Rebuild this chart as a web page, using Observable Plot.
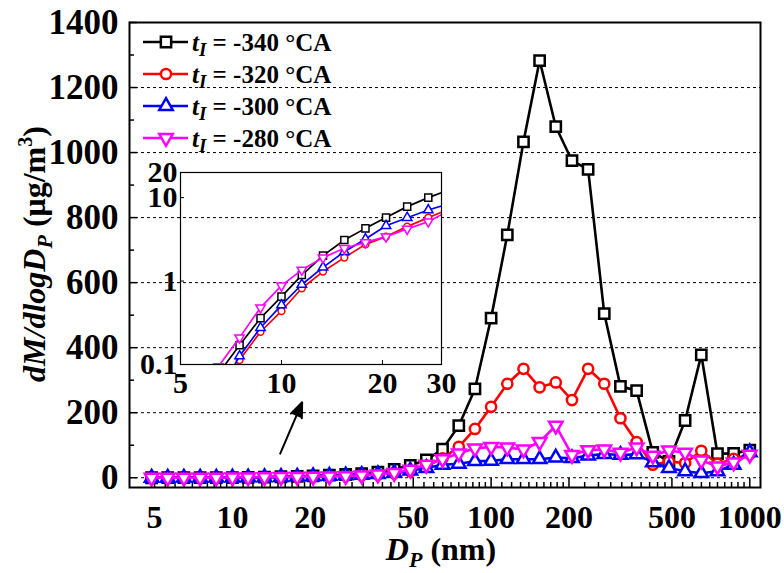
<!DOCTYPE html>
<html>
<head>
<meta charset="utf-8">
<script src="https://cdn.jsdelivr.net/npm/d3@7"></script>
<script src="https://cdn.jsdelivr.net/npm/@observablehq/plot@0.6"></script>
<style>
  html, body { margin: 0; padding: 0; background: #fff; }
  #wrap { position: relative; width: 784px; height: 573px; overflow: hidden; }
  #wrap svg { position: absolute; }
  #wrap svg text, #wrap svg tspan { font-family: "Liberation Serif", "Times New Roman", serif; font-weight: bold; fill: #000; }
</style>
</head>
<body>
<div id="wrap"></div>
<script>
// Particle size channels (nm), 16 per decade
const diameterNm = [4.87, 5.62, 6.49, 7.50, 8.66, 10.0, 11.5, 13.3, 15.4, 17.8, 20.5, 23.7, 27.4,
  31.6, 36.5, 42.2, 48.7, 56.2, 64.9, 75.0, 86.6, 100, 115.5, 133.4, 154.0, 177.8, 205.4, 237.1,
  273.8, 316.2, 365.2, 421.7, 487.0, 562.3, 649.4, 749.9, 866.0, 1000];

// Injection timings (°CA)
const injectionTiming = ["-340", "-320", "-300", "-280"];

// Mass size distribution dM/dlogDp (µg/m³) for each injection timing
const massM340 = [0.01, 0.03, 0.078, 0.17, 0.36, 0.65, 1.18, 2.02, 3.1, 4.28, 5.76, 7.8, 10.0,
  12.4, 17, 26, 38, 55, 88, 160, 273, 491, 747, 1033, 1283, 1080, 975, 948,
  505, 281, 268, 78, 50, 176, 378, 74, 75, 85];
const massM320 = [0.008, 0.02, 0.04, 0.113, 0.247, 0.437, 0.82, 1.3, 1.91, 2.75, 3.41, 4.49, 5.76,
  7.3, 10, 14, 20, 36, 60, 95, 150, 218, 289, 335, 278, 293, 239, 335,
  289, 183, 110, 40, 50, 45, 83, 43, 58, 73];
const massM300 = [0.006, 0.02, 0.045, 0.126, 0.276, 0.515, 0.91, 1.46, 2.25, 3.19, 4.6, 5.75, 7.1,
  8.5, 11, 15, 22, 30, 40, 43, 51, 52, 57, 57, 57, 62, 60, 68,
  73, 70, 72, 47, 30, 20, 14, 20, 40, 78];
const massM280 = [0.01, 0.04, 0.095, 0.21, 0.48, 0.88, 1.36, 1.91, 2.47, 2.91, 3.41, 4.2, 5.15,
  7, 10, 15, 25, 40, 57, 75, 90, 95, 93, 87, 110, 160, 70, 85,
  87, 77, 93, 68, 84, 77, 53, 35, 47, 71];

// Axis ticks
const xTicksMain = [5, 10, 20, 50, 100, 200, 500, 1000];
const yTicksMain = [0, 200, 400, 600, 800, 1000, 1200, 1400];
const yGridMain = [0, 200, 400, 600, 800, 1000, 1200];
const xTicksInset = [5, 10, 20, 30];
const yTicksInset = [0.1, 1, 10, 20];
const xTickMarksInset = [10, 20];
const yTickMarksInset = [1, 10];

// Arrow pointing from the small-particle range toward the inset
const arrowNote = [{x1: 15.3, y1: 74, x2: 18.6, y2: 232}];

// ---- marker shapes ----
const sqrt3 = Math.sqrt(3);
const triangleUp = {draw(ctx, size) {
  const y = -Math.sqrt(size / (sqrt3 * 3));
  ctx.moveTo(0, y * 2); ctx.lineTo(-sqrt3 * y, -y); ctx.lineTo(sqrt3 * y, -y); ctx.closePath();
}};
const triangleDown = {draw(ctx, size) {
  const y = Math.sqrt(size / (sqrt3 * 3));
  ctx.moveTo(0, y * 2); ctx.lineTo(-sqrt3 * y, -y); ctx.lineTo(sqrt3 * y, -y); ctx.closePath();
}};

const seriesValues = [massM340, massM320, massM300, massM280];
const seriesStyle = [
  {color: "#000000", symbol: d3.symbolSquare, r: 5.8, rInset: 4.0},
  {color: "#ff0000", symbol: d3.symbolCircle, r: 5.1, rInset: 3.4},
  {color: "#0000ff", symbol: triangleUp, r: 5.0, rInset: 3.5},
  {color: "#ff00ff", symbol: triangleDown, r: 5.0, rInset: 3.5}
];

const series = injectionTiming.map((name, i) => ({
  name,
  rows: diameterNm.map((d, j) => ({d, v: seriesValues[i][j]})),
  ...seriesStyle[i]
}));

// ---- main chart ----
const W = 784, H = 573;
const mL = 129, mR = 24, mT = 22, mB = 86;
const fw = W - mL - mR, fh = H - mT - mB;

// minor ticks: nine evenly spaced between consecutive labelled ticks
const xMinorMain = [];
for (let i = 0; i < xTicksMain.length - 1; i++) {
  const a = xTicksMain[i], b = xTicksMain[i + 1];
  for (let k = 1; k < 10; k++) xMinorMain.push(a + (b - a) * k / 10);
}
const yMinorMain = yTicksMain.slice(0, -1).map(v => v + 100);

const seriesMarks = (which, sw, lw, clip) => series.flatMap(s => [
  Plot.line(s.rows, {x: "d", y: "v", stroke: s.color, strokeWidth: lw, clip}),
  Plot.dot(s.rows, {x: "d", y: "v", stroke: s.color, fill: "white", strokeWidth: sw,
    symbol: s.symbol, r: which === "main" ? s.r : s.rInset, clip})
]);

const main = Plot.plot({
  width: W, height: H,
  marginLeft: mL, marginRight: mR, marginTop: mT, marginBottom: mB,
  style: {background: "transparent", overflow: "visible"},
  x: {type: "log", domain: [4, 1100], axis: null},
  y: {domain: [-30, 1400], axis: null},
  marks: [
    Plot.ruleY(yGridMain, {y: d => d, stroke: "#000", strokeWidth: 1, strokeDasharray: "3,3"}),
    Plot.tickX(xTicksMain, {x: d => d, insetTop: fh - 9, stroke: "#000", strokeWidth: 1.5}),
    Plot.tickX(xMinorMain, {x: d => d, insetTop: fh - 5, stroke: "#000", strokeWidth: 1.5}),
    Plot.tickY(yTicksMain, {y: d => d, insetRight: fw - 8, stroke: "#000", strokeWidth: 1.5}),
    Plot.tickY(yMinorMain, {y: d => d, insetRight: fw - 5, stroke: "#000", strokeWidth: 1.5}),
    Plot.text(xTicksMain, {x: d => d, frameAnchor: "bottom", lineAnchor: "top", dy: 18,
      text: d => String(d), fontSize: 32}),
    Plot.text(yTicksMain, {y: d => d, frameAnchor: "left", textAnchor: "end", dx: -11,
      text: d => String(d), fontSize: 35}),
    Plot.arrow(arrowNote, {x1: "x1", y1: "y1", x2: "x2", y2: "y2", stroke: "#000", fill: "#000",
      strokeWidth: 2, headLength: 12, headAngle: 44}),
    ...seriesMarks("main", 2.5, 2.6, false),
    Plot.frame({stroke: "#000", strokeWidth: 2})
  ]
});
main.id = "main";
main.style.left = "0px";
main.style.top = "0px";
document.getElementById("wrap").appendChild(main);

// ---- inset: small-particle range on log-log axes ----
const iL = 80, iR = 30, iT = 22, iB = 40;
const iW = iL + 261 + iR, iH = iT + 192 + iB;
const ifw = iW - iL - iR, ifh = iH - iT - iB;
const inset = Plot.plot({
  width: iW, height: iH,
  marginLeft: iL, marginRight: iR, marginTop: iT, marginBottom: iB,
  style: {background: "transparent", overflow: "visible"},
  x: {type: "log", domain: [5, 30], axis: null},
  y: {type: "log", domain: [0.1, 20], axis: null},
  marks: [
    Plot.tickX(xTickMarksInset, {x: d => d, insetTop: ifh - 4, stroke: "#000", strokeWidth: 1}),
    Plot.tickY(yTickMarksInset, {y: d => d, insetRight: ifw - 4, stroke: "#000", strokeWidth: 1}),
    Plot.text(xTicksInset, {x: d => d, frameAnchor: "bottom", lineAnchor: "top", dy: 7,
      text: d => String(d), fontSize: 30}),
    Plot.text(yTicksInset, {y: d => d, frameAnchor: "left", textAnchor: "end", dx: -3,
      text: d => String(d), fontSize: 30}),
    ...seriesMarks("inset", 1.5, 1.7, true),
    Plot.frame({stroke: "#000", strokeWidth: 1.2})
  ]
});
inset.id = "inset";
inset.style.left = "100px";
inset.style.top = "150px";
document.getElementById("wrap").appendChild(inset);

// ---- axis titles and legend ----
const svg = d3.select(main);

const yTitle = svg.append("text")
  .attr("transform", "translate(45,254) rotate(-90)")
  .attr("text-anchor", "middle")
  .style("font-size", "32px");
yTitle.append("tspan").attr("font-style", "italic").text("dM/dlogD");
yTitle.append("tspan").attr("font-style", "italic").style("font-size", "22px").attr("dy", 7).text("P");
yTitle.append("tspan").attr("dy", -7).text(" (μg/m");
yTitle.append("tspan").style("font-size", "20px").attr("dy", -13).text("3");
yTitle.append("tspan").attr("dy", 13).text(")");

const xTitle = svg.append("text")
  .attr("x", 441).attr("y", 560)
  .attr("text-anchor", "middle")
  .style("font-size", "32px");
xTitle.append("tspan").attr("font-style", "italic").text("D");
xTitle.append("tspan").attr("font-style", "italic").style("font-size", "22px").attr("dy", 7).text("P");
xTitle.append("tspan").attr("dy", -7).text(" (nm)");

const legend = svg.append("g");
series.forEach((s, i) => {
  const yc = 42 + i * 32;
  const g = legend.append("g").attr("transform", `translate(0,${yc})`);
  g.append("line").attr("x1", 143).attr("x2", 188).attr("y1", 0).attr("y2", 0)
    .attr("stroke", s.color).attr("stroke-width", 2.6);
  g.append("path").attr("transform", "translate(166,0)")
    .attr("d", d3.symbol(s.symbol, Math.PI * s.r * s.r)())
    .attr("fill", "white").attr("stroke", s.color).attr("stroke-width", 2.5);
  const t = g.append("text").attr("x", 192).attr("y", 0).attr("dy", "0.35em")
    .attr("text-anchor", "start").style("font-size", "25px");
  t.append("tspan").attr("font-style", "italic").text("t");
  t.append("tspan").attr("font-style", "italic").style("font-size", "19px").attr("dy", 5).text("I");
  t.append("tspan").attr("dy", -5).text(` = ${s.name} °CA`);
});
</script>
</body>
</html>
